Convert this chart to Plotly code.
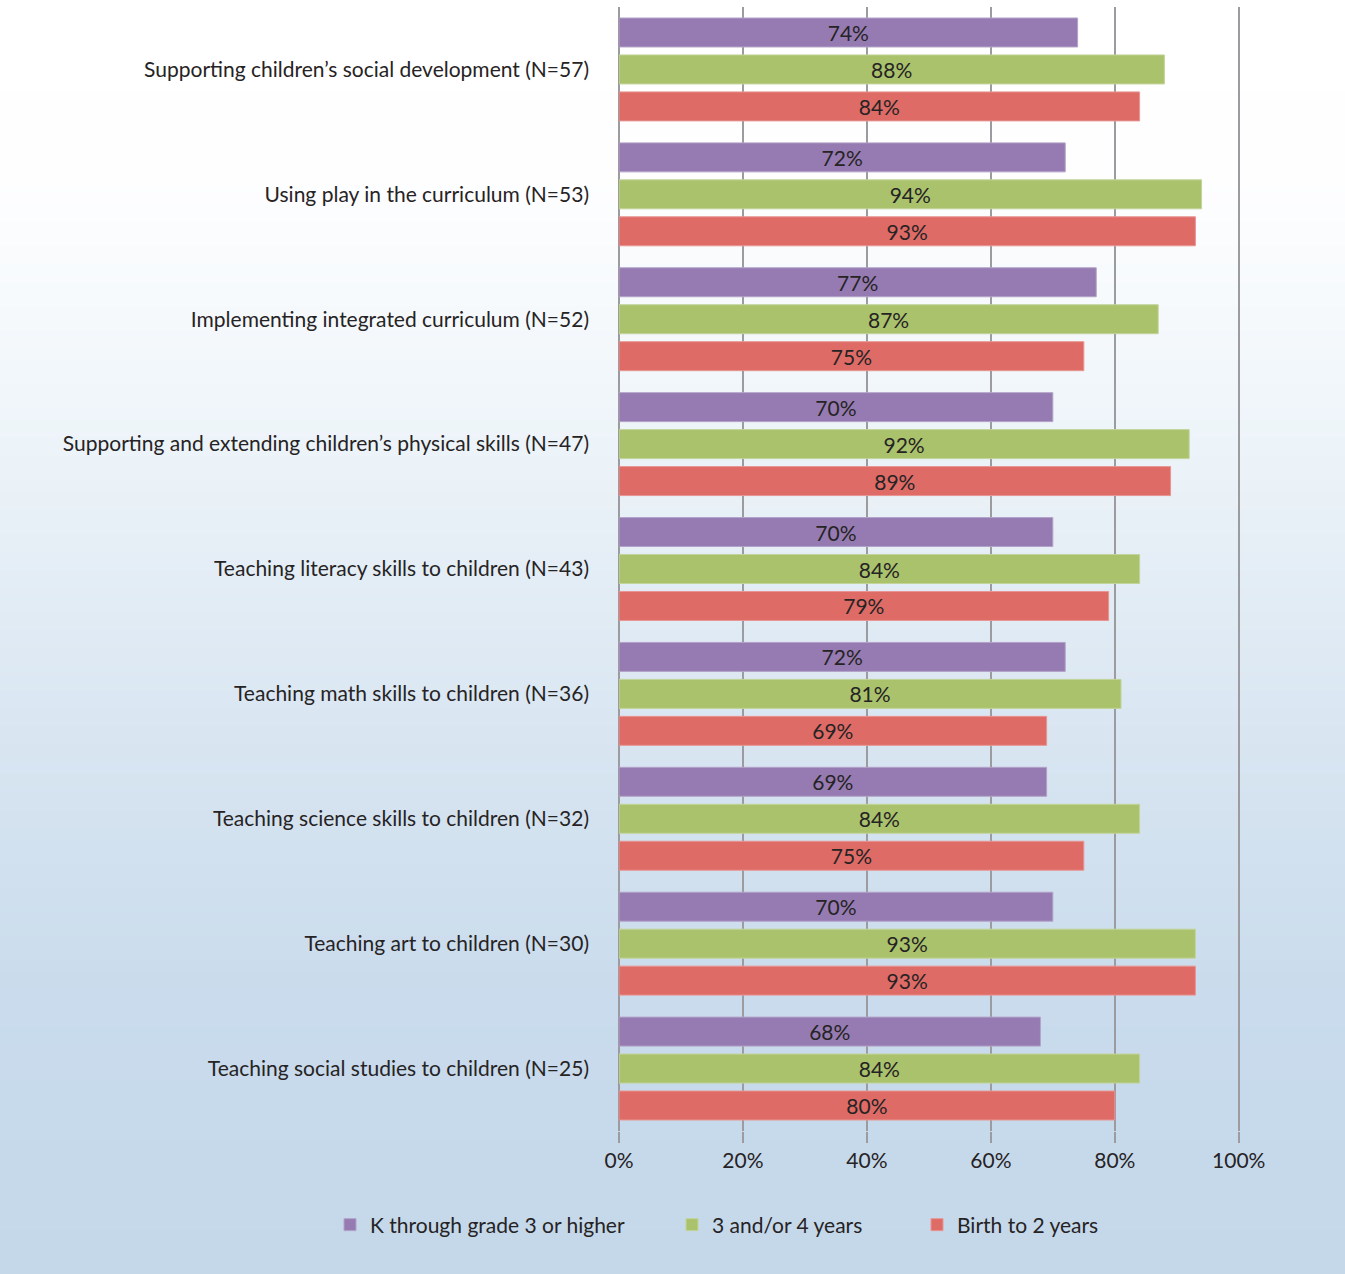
import plotly.graph_objects as go

categories = [
    "Supporting children’s social development (N=57)",
    "Using play in the curriculum (N=53)",
    "Implementing integrated curriculum (N=52)",
    "Supporting and extending children’s physical skills (N=47)",
    "Teaching literacy skills to children (N=43)",
    "Teaching math skills to children (N=36)",
    "Teaching science skills to children (N=32)",
    "Teaching art to children (N=30)",
    "Teaching social studies to children (N=25)",
]
series_names = ["K through grade 3 or higher", "3 and/or 4 years", "Birth to 2 years"]
k_grade3 = [74, 72, 77, 70, 70, 72, 69, 70, 68]
age_3_4 = [88, 94, 87, 92, 84, 81, 84, 93, 84]
birth_2 = [84, 93, 75, 89, 79, 69, 75, 93, 80]
tick_vals = [0, 20, 40, 60, 80, 100]
tick_text = ["0%", "20%", "40%", "60%", "80%", "100%"]

colors = ["#957bb1", "#aac26c", "#de6b66"]
edge = ["#b3a3c8", "#c2d49a", "#e89592"]
legends = ["legend", "legend2", "legend3"]
FONT = "Lato"
FS = 21
TXT = "#262324"
GRID = "#9b9ba0"

W, H = 1345, 1274
L, R, T, B = 619, 105, 7, 143
pw, ph = W - L - R, H - T - B

fig = go.Figure()
for name, vals, c, e, lg in zip(series_names, [k_grade3, age_3_4, birth_2], colors, edge, legends):
    fig.add_trace(go.Bar(
        y=categories, x=vals, name=name, orientation="h",
        marker=dict(color=c, line=dict(color=e, width=1)),
        text=[f"{v}%" for v in vals], textposition="inside",
        insidetextanchor="middle", constraintext="none",
        textfont=dict(family=FONT, size=FS, color=TXT),
        legend=lg,
    ))

# background gradient (white at top to light blue at bottom)
stops = [(0, (255, 255, 255)), (180, (254, 254, 255)), (400, (240, 246, 250)),
         (700, (219, 231, 242)), (1000, (201, 219, 236)), (1274, (196, 216, 234))]

def col_at(py):
    for (y0, c0), (y1, c1) in zip(stops[:-1], stops[1:]):
        if y0 <= py <= y1:
            t = (py - y0) / (y1 - y0)
            return tuple(round(a + (b - a) * t) for a, b in zip(c0, c1))
    return stops[-1][1]

shapes = []
step = 6
for py in range(0, H, step):
    c = col_at(py + step / 2)
    y_top = (T + ph - py) / ph
    y_bot = (T + ph - (py + step + 1)) / ph
    shapes.append(dict(type="rect", xref="paper", yref="paper",
                       x0=-L / pw - 0.01, x1=1 + R / pw + 0.01, y0=y_bot, y1=y_top,
                       fillcolor="rgb(%d,%d,%d)" % c, line=dict(width=0), layer="below"))

def px_x(px):
    return (px - L) / pw

leg_common = dict(orientation="h", yanchor="middle", y=(T + ph - 1225) / ph,
                  xanchor="left", bgcolor="rgba(0,0,0,0)",
                  font=dict(family=FONT, size=FS, color=TXT))

fig.update_layout(
    width=W, height=H,
    margin=dict(l=L, r=R, t=T, b=B),
    paper_bgcolor="rgba(0,0,0,0)", plot_bgcolor="rgba(0,0,0,0)",
    barmode="group", bargap=0.112, bargroupgap=0.216,
    font=dict(family=FONT, size=FS, color=TXT),
    shapes=shapes,
    xaxis=dict(range=[0, 100.2], tickvals=tick_vals, ticktext=tick_text,
               showgrid=True, gridcolor=GRID, gridwidth=2,
               zeroline=True, zerolinecolor=GRID, zerolinewidth=2, showline=False,
               ticks="outside", ticklen=11, tickwidth=2, tickcolor=GRID,
               tickfont=dict(family=FONT, size=FS, color=TXT), fixedrange=True),
    yaxis=dict(autorange="reversed", showgrid=False, zeroline=False, showline=False,
               ticks="", ticklabelstandoff=29,
               tickfont=dict(family=FONT, size=FS, color=TXT), fixedrange=True),
    legend=dict(x=px_x(330), **leg_common),
    legend2=dict(x=px_x(672), **leg_common),
    legend3=dict(x=px_x(917), **leg_common),
    showlegend=True,
)

fig.write_html("out.html", config={"displayModeBar": False},
               post_script="document.body.style.margin='0';document.body.style.overflow='hidden';")
